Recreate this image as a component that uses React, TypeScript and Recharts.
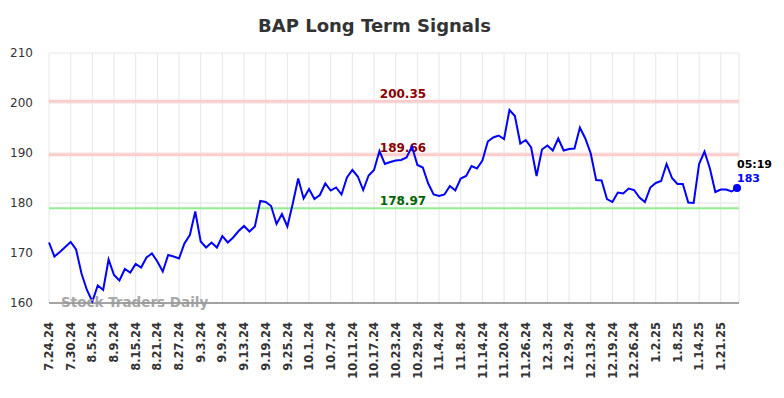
import { LineChart, Line, XAxis, YAxis, CartesianGrid, ReferenceLine } from "recharts";

const dates = [
  "7.24.24", "7.25.24", "7.26.24", "7.29.24", "7.30.24", "7.31.24", "8.1.24", "8.2.24",
  "8.5.24", "8.6.24", "8.7.24", "8.8.24", "8.9.24", "8.12.24", "8.13.24", "8.14.24",
  "8.15.24", "8.16.24", "8.19.24", "8.20.24", "8.21.24", "8.22.24", "8.23.24", "8.26.24",
  "8.27.24", "8.28.24", "8.29.24", "8.30.24", "9.3.24", "9.4.24", "9.5.24", "9.6.24",
  "9.9.24", "9.10.24", "9.11.24", "9.12.24", "9.13.24", "9.16.24", "9.17.24", "9.18.24",
  "9.19.24", "9.20.24", "9.23.24", "9.24.24", "9.25.24", "9.26.24", "9.27.24", "9.30.24",
  "10.1.24", "10.2.24", "10.3.24", "10.4.24", "10.7.24", "10.8.24", "10.9.24", "10.10.24",
  "10.11.24", "10.14.24", "10.15.24", "10.16.24", "10.17.24", "10.18.24", "10.21.24", "10.22.24",
  "10.23.24", "10.24.24", "10.25.24", "10.28.24", "10.29.24", "10.30.24", "10.31.24", "11.1.24",
  "11.4.24", "11.5.24", "11.6.24", "11.7.24", "11.8.24", "11.11.24", "11.12.24", "11.13.24",
  "11.14.24", "11.15.24", "11.18.24", "11.19.24", "11.20.24", "11.21.24", "11.22.24", "11.25.24",
  "11.26.24", "11.27.24", "11.29.24", "12.2.24", "12.3.24", "12.4.24", "12.5.24", "12.6.24",
  "12.9.24", "12.10.24", "12.11.24", "12.12.24", "12.13.24", "12.16.24", "12.17.24", "12.18.24",
  "12.19.24", "12.20.24", "12.23.24", "12.24.24", "12.26.24", "12.27.24", "12.30.24", "12.31.24",
  "1.2.25", "1.3.25", "1.6.25", "1.7.25", "1.8.25", "1.9.25", "1.10.25", "1.13.25",
  "1.14.25", "1.15.25", "1.16.25", "1.17.25", "1.21.25", "1.22.25", "1.23.25", "1.24.25",
];

const prices = [
  172.1, 169.3, 170.2, 171.2, 172.2, 170.7, 165.9, 162.6,
  160.3, 163.5, 162.6, 168.7, 165.6, 164.5, 166.8, 166.1,
  167.8, 167.1, 169.1, 169.9, 168.3, 166.3, 169.6, 169.3,
  168.9, 171.9, 173.6, 178.3, 172.3, 171.1, 172.1, 171.1,
  173.4, 172.1, 173.1, 174.4, 175.4, 174.3, 175.3, 180.4,
  180.2, 179.4, 175.8, 177.8, 175.3, 179.9, 184.9, 180.9,
  182.8, 180.8, 181.6, 183.9, 182.5, 183.1, 181.7, 185.1,
  186.6, 185.3, 182.6, 185.5, 186.6, 190.4, 187.8, 188.2,
  188.5, 188.6, 189.1, 191.3, 187.6, 187.1, 183.9, 181.7,
  181.4, 181.7, 183.4, 182.5, 184.9, 185.4, 187.4, 186.9,
  188.5, 192.3, 193.1, 193.5, 192.8, 198.6, 197.4, 191.9,
  192.6, 191.1, 185.4, 190.7, 191.5, 190.5, 192.9, 190.5,
  190.8, 190.9, 195.1, 192.9, 189.9, 184.6, 184.5, 180.8,
  180.2, 182.1, 181.9, 182.9, 182.6, 181.1, 180.2, 183.1,
  184.0, 184.4, 187.8, 185.0, 183.8, 183.8, 180.1, 180.0,
  187.8, 190.3, 186.9, 182.2, 182.7, 182.7, 182.3, 183.0,
];

const tickLabels = [
  "7.24.24", "7.30.24", "8.5.24", "8.9.24", "8.15.24", "8.21.24", "8.27.24", "9.3.24",
  "9.9.24", "9.13.24", "9.19.24", "9.25.24", "10.1.24", "10.7.24", "10.11.24", "10.17.24",
  "10.23.24", "10.29.24", "11.4.24", "11.8.24", "11.14.24", "11.20.24", "11.26.24", "12.3.24",
  "12.9.24", "12.13.24", "12.19.24", "12.26.24", "1.2.25", "1.8.25", "1.14.25", "1.21.25",
];

const yTicks = [160, 170, 180, 190, 200, 210];
const resistanceLevels = [200.35, 189.66];
const supportLevels = [178.97];
const lastTime = "05:19";
const lastPrice = "183";

const data = dates.map((date, i) => ({ date, price: prices[i] }));

const FONT = "DejaVu Sans";

function XTick(props: any) {
  const { x, y, payload } = props;
  return (
    <text
      transform={`translate(${x},${y + 11}) rotate(-90)`}
      textAnchor="end"
      dy="0.36em"
      fontSize={11.5}
      fontWeight="bold"
      fill="#333"
      fontFamily={FONT}
    >
      {payload.value}
    </text>
  );
}

function LevelLabel(props: any) {
  const { viewBox, text, color } = props;
  if (!viewBox) return null;
  return (
    <text
      x={viewBox.x + viewBox.width * 0.513}
      y={viewBox.y - 3}
      textAnchor="middle"
      fontSize={12}
      fontWeight="bold"
      fill={color}
      fontFamily={FONT}
    >
      {text}
    </text>
  );
}

function EndDot(props: any) {
  const { cx, cy, index } = props;
  if (index !== prices.length - 1) return <g key={`d${index}`} />;
  return (
    <g key={`d${index}`}>
      <circle cx={cx} cy={cy} r={4} fill="#0000ff" />
      <text x={cx} y={cy - 20} fontSize={11} fontWeight="bold" fill="#000" fontFamily={FONT}>
        {lastTime}
      </text>
      <text x={cx} y={cy - 6} fontSize={11} fontWeight="bold" fill="#0000ff" fontFamily={FONT}>
        {lastPrice}
      </text>
    </g>
  );
}

export default function App() {
  return (
    <div style={{ position: "absolute", left: 0, top: 0, width: 784, height: 398, background: "#fff" }}>
      <div
        style={{
          position: "absolute",
          left: 0,
          top: 15,
          width: 749,
          textAlign: "center",
          fontFamily: FONT,
          fontWeight: "bold",
          fontSize: 18,
          color: "#333",
        }}
      >
        BAP Long Term Signals
      </div>
      <LineChart width={784} height={398} data={data} margin={{ top: 53, right: 45, bottom: 35, left: 0 }}>
        <CartesianGrid stroke="#e6e6e6" />
        <XAxis
          dataKey="date"
          ticks={tickLabels}
          interval={0}
          height={60}
          tick={<XTick />}
          tickLine={false}
          axisLine={{ stroke: "#555" }}
          padding={{ left: 0, right: 2 }}
        />
        <YAxis
          domain={[160, 210]}
          ticks={yTicks}
          width={49}
          axisLine={false}
          tickLine={false}
          tickMargin={10}
          tick={{ fontSize: 12, fill: "#333", fontFamily: FONT }}
        />
        {resistanceLevels.map((v) => (
          <ReferenceLine
            key={v}
            y={v}
            stroke="#ffcccc"
            strokeWidth={3}
            label={<LevelLabel text={v.toFixed(2)} color="#8b0000" />}
          />
        ))}
        {supportLevels.map((v) => (
          <ReferenceLine
            key={v}
            y={v}
            stroke="#90ee90"
            strokeWidth={2}
            label={<LevelLabel text={v.toFixed(2)} color="#006400" />}
          />
        ))}
        <Line
          type="linear"
          dataKey="price"
          stroke="#0000ff"
          strokeWidth={2}
          dot={EndDot}
          activeDot={false}
          isAnimationActive={false}
        />
      </LineChart>
      <div
        style={{
          position: "absolute",
          left: 61,
          top: 294,
          fontFamily: FONT,
          fontWeight: "bold",
          fontSize: 13.5,
          color: "#999",
          opacity: 0.85,
        }}
      >
        Stock Traders Daily
      </div>
    </div>
  );
}
